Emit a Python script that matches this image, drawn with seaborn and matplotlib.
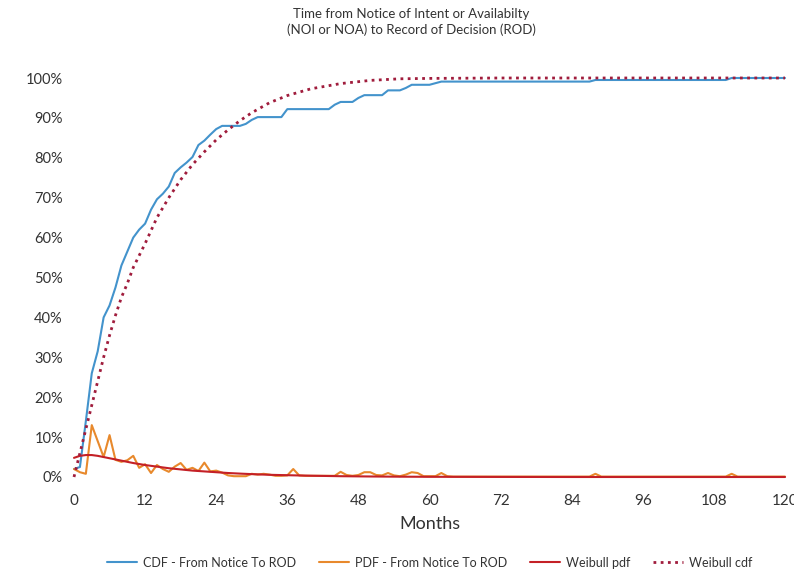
import pandas as pd
import seaborn as sns
import matplotlib.pyplot as plt
from matplotlib.ticker import FuncFormatter

sns.set_theme(style='white')
plt.rcParams['font.family'] = ['Lato', 'DejaVu Sans']

# observed CDF, monthly (percent)
months = list(range(0, 121))
cdf_obs = [2, 2.5, 14, 26, 31.5, 40, 43, 47.5, 53, 56.5,
           60, 62, 63.5, 67, 69.6, 71, 72.8, 76.2, 77.6, 78.8,
           80.2, 83.2, 84.3, 85.8, 87.2, 88, 88, 88, 88, 88.5,
           89.5, 90.2, 90.2, 90.2, 90.2, 90.2, 92.2, 92.2, 92.2, 92.2,
           92.2, 92.2, 92.2, 92.2, 93.3, 94, 94, 94, 95, 95.7,
           95.7, 95.7, 95.7, 96.9, 96.9, 96.9, 97.5, 98.3, 98.3, 98.3,
           98.3, 98.7, 99.1, 99.1, 99.1, 99.1, 99.1, 99.1, 99.1, 99.1,
           99.1, 99.1, 99.1, 99.1, 99.1, 99.1, 99.1, 99.1, 99.1, 99.1,
           99.1, 99.1, 99.1, 99.1, 99.1, 99.1, 99.1, 99.1, 99.5, 99.5,
           99.5, 99.5, 99.5, 99.5, 99.5, 99.5, 99.5, 99.5, 99.5, 99.5,
           99.5, 99.5, 99.5, 99.5, 99.5, 99.5, 99.5, 99.5, 99.5, 99.5,
           99.5, 100, 100, 100, 100, 100, 100, 100, 100, 100, 100]

# observed PDF, monthly (percent)
pdf_obs = [2, 1.2, 0.8, 13, 9, 5, 10.5, 4.3, 3.8, 4.2,
           5.3, 2.3, 3.2, 1, 3, 2, 1.3, 2.6, 3.5, 1.8,
           2.3, 1.5, 3.6, 1.4, 1.6, 1.1, 0.4, 0.2, 0.2, 0.2,
           0.8, 0.6, 0.8, 0.6, 0.3, 0.3, 0.4, 2.0, 0.4, 0.3,
           0.3, 0.3, 0.3, 0.3, 0.3, 1.3, 0.5, 0.3, 0.5, 1.2,
           1.2, 0.5, 0.4, 1.0, 0.4, 0.2, 0.6, 1.2, 1.0, 0.2,
           0.2, 0.2, 1.0, 0.2, 0.1, 0.1, 0.1, 0.1, 0.1, 0.1,
           0.1, 0.1, 0.1, 0.1, 0.1, 0.1, 0.1, 0.1, 0.1, 0.1,
           0.1, 0.1, 0.1, 0.1, 0.1, 0.1, 0.1, 0.1, 0.8, 0.1,
           0.1, 0.1, 0.1, 0.1, 0.1, 0.1, 0.1, 0.1, 0.1, 0.1,
           0.1, 0.1, 0.1, 0.1, 0.1, 0.1, 0.1, 0.1, 0.1, 0.1,
           0.1, 0.8, 0.1, 0.1, 0.1, 0.1, 0.1, 0.1, 0.1, 0.1, 0.1]

# fitted Weibull curves (percent)
weib_months = [0, 1, 2, 3, 4, 5, 6, 7, 8, 9, 10, 12, 14, 16, 18, 20, 22, 24,
               26, 28, 30, 33, 36, 40, 45, 50, 55, 60, 72, 84, 96, 108, 120]
weib_pdf = [4.8, 5.3, 5.5, 5.5, 5.3, 5.0, 4.7, 4.4, 4.1, 3.8, 3.5, 3.0, 2.6,
            2.2, 1.9, 1.6, 1.4, 1.2, 1.0, 0.85, 0.72, 0.55, 0.45, 0.32, 0.2,
            0.13, 0.08, 0.05, 0.02, 0, 0, 0, 0]
weib_cdf = [0, 6, 12, 18, 24, 30, 35.5, 40.5, 45, 48.5, 52.5, 58.5, 65,
            70, 74.5, 78.3, 81.5, 84.5, 87, 89.3, 91.3, 93.8, 95.6, 97.3,
            98.6, 99.4, 99.8, 99.9, 100, 100, 100, 100, 100]

obs = pd.DataFrame({'Months': months, 'CDF': cdf_obs, 'PDF': pdf_obs})
weib = pd.DataFrame({'Months': weib_months, 'pdf': weib_pdf, 'cdf': weib_cdf})

fig = plt.figure(figsize=(7.94, 5.78), dpi=100)
ax = fig.add_axes([74 / 794, 1 - 477 / 578, 711 / 794, 399 / 578])

sns.lineplot(data=obs, x='Months', y='CDF', ax=ax, color='#4393cc', lw=1.5,
             label='CDF - From Notice To ROD', clip_on=False)
sns.lineplot(data=obs, x='Months', y='PDF', ax=ax, color='#e8892c', lw=1.5,
             label='PDF - From Notice To ROD', clip_on=False)
sns.lineplot(data=weib, x='Months', y='pdf', ax=ax, color='#c42026', lw=1.5,
             label='Weibull pdf', clip_on=False)
sns.lineplot(data=weib, x='Months', y='cdf', ax=ax, color='#a01c3c', lw=2,
             linestyle=(0, (1, 1.6)), label='Weibull cdf', clip_on=False)

ax.set_xlim(0, 120)
ax.set_ylim(0, 100)
ax.set_xticks(range(0, 121, 12))
ax.set_yticks(range(0, 101, 10))
ax.yaxis.set_major_formatter(FuncFormatter(lambda v, p: f'{int(v)}%'))
ax.tick_params(axis='x', labelsize=11, colors='#333333', pad=12, length=0)
ax.tick_params(axis='y', labelsize=10.5, colors='#333333', pad=8, length=0)
ax.set_xlabel('Months', fontsize=13, color='#333333', labelpad=6)
ax.set_ylabel('')
sns.despine(ax=ax, left=True, bottom=True)

fig.text(411 / 794, 1 - 22 / 578,
         'Time from Notice of Intent or Availabilty\n(NOI or NOA) to Record of Decision (ROD)',
         ha='center', va='center', fontsize=9.5, color='#333333', linespacing=1.35)

ax.legend(loc='center', bbox_to_anchor=(0.5, -0.215), ncol=4, frameon=False,
          fontsize=9, handlelength=2.4, columnspacing=1.8, handletextpad=0.5,
          labelcolor='#333333')

fig.savefig('out.png', dpi=100, facecolor='white')
